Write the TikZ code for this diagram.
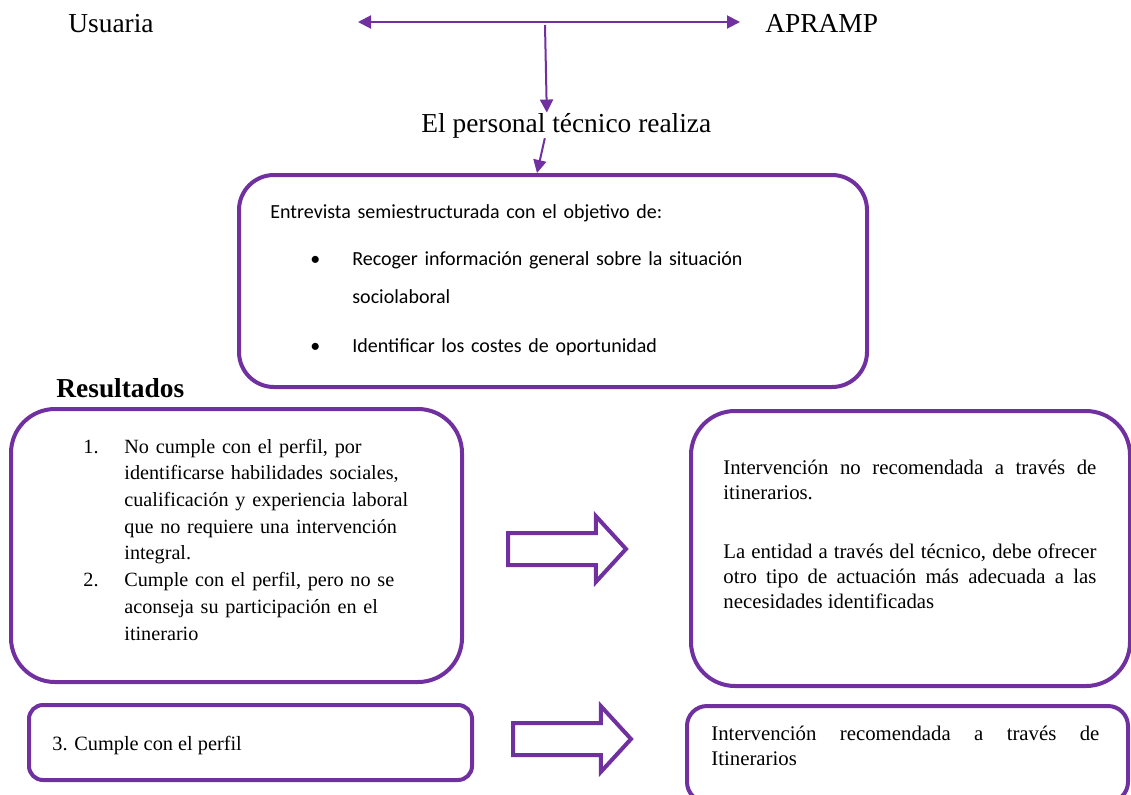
\documentclass[tikz,border=0pt]{standalone}
\usepackage{fontspec}
\setmainfont{Liberation Serif}
\newfontfamily\calibri{Carlito}
\usepackage{tikz}
\usetikzlibrary{arrows.meta,positioning,shapes.arrows}
\definecolor{morado}{RGB}{112,48,160}
\newcommand{\letragrande}{\fontsize{13.7}{16}\selectfont}
\newcommand{\letrachica}{\fontsize{10.1}{13.36}\selectfont}

\begin{document}
\begin{tikzpicture}[x=0.5pt, y=-0.5pt,
    >={Triangle[length=6.5pt, width=6.5pt]},
    caja/.style={draw=morado, line width=2pt, rounded corners=#1, inner sep=0pt},
    texto/.style={inner sep=0pt, anchor=base west},
    flecha/.style={draw=morado, line width=1pt},
    bloque/.style={single arrow, draw=morado, line width=2pt, minimum height=59pt,
      inner xsep=0pt, inner ysep=7pt, single arrow head extend=8.5pt,
      single arrow tip angle=95, anchor=tail}]

  \useasboundingbox (0,0) rectangle (1131,794);

  % Define nodes
  \node[texto, font=\letragrande] (usuaria) at (68,32) {Usuaria};
  \node[texto, font=\letragrande] (apramp) at (765,32) {APRAMP};
  \node[texto, font=\letragrande] (personal) at (421,132) {El personal técnico realiza};

  \node[caja=17.5pt, minimum width=314pt, minimum height=106pt] (entrevista) at (553,281) {};
  \node[texto, text width=250pt, align=left, font=\calibri\fontsize{10}{19}\selectfont] (objetivo) at (270,218) {Entrevista semiestructurada con el objetivo de:\\[4.5pt]
    \hspace*{20pt}\makebox[21pt][l]{\textbullet}Recoger información general sobre la situación\\
    \hspace*{41pt}sociolaboral\\[5.5pt]
    \hspace*{20pt}\makebox[21pt][l]{\textbullet}Identificar los costes de oportunidad};

  \node[texto, font=\letragrande\bfseries] (resultados) at (56,397) {Resultados};

  % left column
  \node[caja=22pt, minimum width=225.5pt, minimum height=136.5pt] (perfil) at (236.5,545.5) {};
  \node[texto, text width=175pt, align=left, font=\letrachica] (lista) at (83,453) {\makebox[20.5pt][l]{1.}No cumple con el perfil, por\\
    \hspace*{20.5pt}identificarse habilidades sociales,\\
    \hspace*{20.5pt}cualificación y experiencia laboral\\
    \hspace*{20.5pt}que no requiere una intervención\\
    \hspace*{20.5pt}integral.\\
    \makebox[20.5pt][l]{2.}Cumple con el perfil, pero no se\\
    \hspace*{20.5pt}aconseja su participación en el\\
    \hspace*{20.5pt}itinerario};

  \node[caja=7pt, minimum width=221.5pt, minimum height=37.5pt] (cumple) at (250.5,742.5) {};
  \node[texto, font=\fontsize{10.15}{12.5}\selectfont] (tres) at (52,750) {3. Cumple con el perfil};

  % right column
  \node[caja=22pt, minimum width=219.5pt, minimum height=137.5pt] (norecomendada) at (910.5,548.5) {};
  \node[texto, text width=186.5pt, align=justify, font=\fontsize{10.4}{12.5}\selectfont] (actuacion) at (723,474) {Intervención no recomendada a través de\linebreak itinerarios.\\[17pt]
    La entidad a través del técnico, debe ofrecer\linebreak otro tipo de actuación más adecuada a las\linebreak necesidades identificadas};

  \node[caja=10pt, minimum width=220.5pt, minimum height=48pt] (recomendada) at (907.5,754) {};
  \node[texto, text width=194pt, align=justify, font=\fontsize{10.4}{12.5}\selectfont] (itinerarios) at (711,740) {Intervención recomendada a través de\linebreak Itinerarios};

  \node[bloque] (paso1) at (506,549) {};
  \node[bloque] (paso2) at (511,739) {};

  % connectors
  \coordinate (izq) at (358,22);
  \coordinate (der) at (740,22);
  \coordinate (medio) at (545,25);

  \draw[flecha, <->] (izq) -- (der);
  \draw[flecha, ->] (medio) -- ([xshift=-9.75pt]personal.north);
  \draw[flecha, ->] ([xshift=-10.75pt]personal.south) -- ([xshift=-8pt]entrevista.north);

\end{tikzpicture}
\end{document}
